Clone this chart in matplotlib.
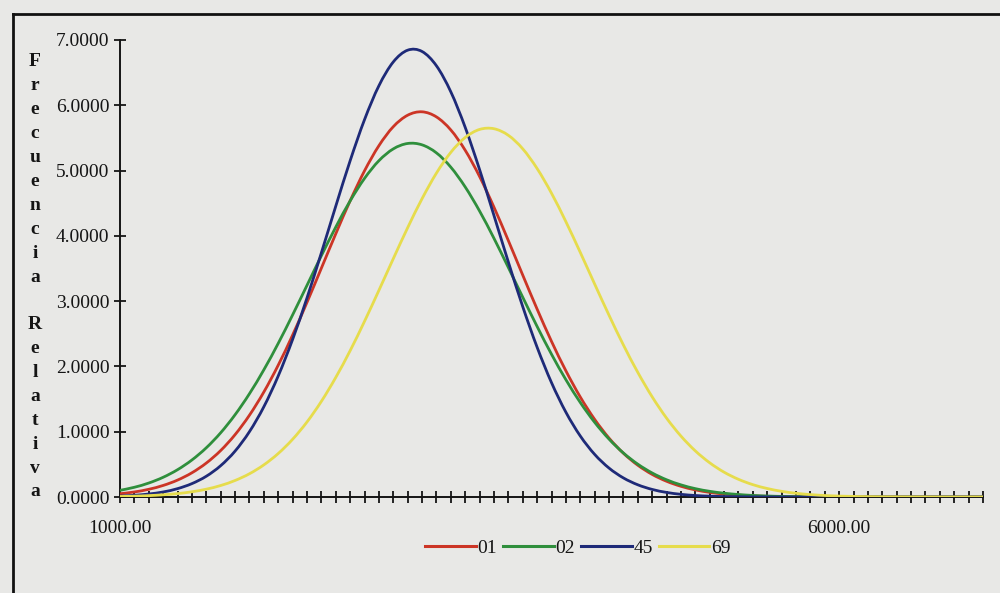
import numpy as np
import matplotlib
matplotlib.use("Agg")
import matplotlib.pyplot as plt
from matplotlib.lines import Line2D
from matplotlib.path import Path
from matplotlib.patches import PathPatch

plt.rcParams['font.family'] = ['Liberation Serif', 'DejaVu Serif']

# Categories (x values)
x_vals = list(range(1000, 7001, 100))

s01 = [0.050, 0.077, 0.118, 0.177, 0.259, 0.371, 0.520, 0.712, 0.955, 1.253,
       1.608, 2.019, 2.480, 2.981, 3.505, 4.031, 4.537, 4.996, 5.381, 5.672,
       5.848, 5.900, 5.822, 5.622, 5.311, 4.909, 4.439, 3.927, 3.399, 2.878,
       2.384, 1.933, 1.532, 1.189, 0.902, 0.670, 0.487, 0.346, 0.241, 0.164,
       0.109, 0.071, 0.045, 0.028, 0.017, 0.010, 0.006, 0.003, 0.002, 0.001,
       0.001, 0, 0, 0, 0, 0, 0, 0, 0, 0, 0]

s02 = [0.102, 0.149, 0.214, 0.302, 0.418, 0.567, 0.754, 0.984, 1.260, 1.582,
       1.948, 2.353, 2.789, 3.242, 3.696, 4.134, 4.535, 4.880, 5.151, 5.332,
       5.415, 5.394, 5.271, 5.052, 4.749, 4.380, 3.962, 3.515, 3.060, 2.612,
       2.187, 1.797, 1.448, 1.144, 0.887, 0.674, 0.503, 0.368, 0.264, 0.186,
       0.128, 0.087, 0.058, 0.038, 0.024, 0.015, 0.009, 0.006, 0.003, 0.002,
       0.001, 0.001, 0, 0, 0, 0, 0, 0, 0, 0, 0]

s45 = [0.014, 0.026, 0.046, 0.077, 0.128, 0.205, 0.318, 0.480, 0.703, 1.001,
       1.382, 1.854, 2.413, 3.049, 3.740, 4.454, 5.150, 5.780, 6.299, 6.664,
       6.844, 6.824, 6.605, 6.206, 5.662, 5.015, 4.312, 3.599, 2.916, 2.294,
       1.752, 1.299, 0.935, 0.653, 0.443, 0.292, 0.187, 0.116, 0.070, 0.041,
       0.023, 0.013, 0.007, 0.004, 0.002, 0.001, 0, 0, 0, 0,
       0, 0, 0, 0, 0, 0, 0, 0, 0, 0, 0]

s69 = [0.008, 0.013, 0.021, 0.034, 0.052, 0.080, 0.120, 0.176, 0.253, 0.356,
       0.492, 0.666, 0.884, 1.149, 1.465, 1.831, 2.241, 2.691, 3.165, 3.650,
       4.125, 4.569, 4.961, 5.279, 5.507, 5.630, 5.641, 5.540, 5.333, 5.031,
       4.653, 4.217, 3.747, 3.262, 2.784, 2.328, 1.909, 1.534, 1.208, 0.933,
       0.706, 0.524, 0.380, 0.271, 0.189, 0.130, 0.087, 0.057, 0.037, 0.023,
       0.014, 0.009, 0.005, 0.003, 0.002, 0.001, 0.001, 0, 0, 0, 0]

series_names = ['01', '02', '45', '69']
series_colors = ['#cc3526', '#2f8f3c', '#1e2a78', '#e6dc4c']
y_ticks = [0, 1, 2, 3, 4, 5, 6, 7]
x_labels = {1000: '1000.00', 6000: '6000.00'}
ylabel_text = 'Frecuencia Relativa'


def smooth_path(xs, ys):
    """Excel-style smoothed line: cubic Bezier segments through the data points."""
    p = np.column_stack([xs, ys]).astype(float)
    verts = [p[0]]
    codes = [Path.MOVETO]
    n = len(p)
    for i in range(n - 1):
        p0 = p[i - 1] if i > 0 else p[i]
        p1, p2 = p[i], p[i + 1]
        p3 = p[i + 2] if i + 2 < n else p[i + 1]
        c1 = p1 + (p2 - p0) / 6.0
        c2 = p2 - (p3 - p1) / 6.0
        verts += [c1, c2, p2]
        codes += [Path.CURVE4] * 3
    return Path(verts, codes)


W, H = 1000, 593
bg = '#e8e8e6'
ink = '#151515'
fig = plt.figure(figsize=(W / 100, H / 100), dpi=100, facecolor=bg)
ax = fig.add_axes([120 / W, 1 - 497 / H, (983 - 120) / W, (497 - 40) / H])
ax.set_facecolor(bg)

for vals, name, col in zip([s01, s02, s45, s69], series_names, series_colors):
    patch = PathPatch(smooth_path(x_vals, vals), facecolor='none', edgecolor=col,
                      lw=2.0, zorder=3, capstyle='round', joinstyle='round')
    ax.add_patch(patch)

ax.set_xlim(1000, 7000)
ax.set_ylim(0, 7)
for sp in ['top', 'right']:
    ax.spines[sp].set_visible(False)
for sp in ['left', 'bottom']:
    ax.spines[sp].set_linewidth(1.4)
    ax.spines[sp].set_color(ink)

ax.set_yticks(y_ticks)
ax.set_yticklabels([f'{v:.4f}' for v in y_ticks])
ax.set_xticks(x_vals)
ax.set_xticklabels([x_labels.get(v, '') for v in x_vals])
ax.tick_params(axis='y', direction='inout', length=9, width=1.3, pad=3,
               labelsize=14, colors=ink)
ax.tick_params(axis='x', direction='inout', length=9, width=1.3, pad=12,
               labelsize=14, colors=ink)

# Stacked vertical y-label, one letter per row
n = len(ylabel_text)
y_top, y_bot = 62, 492
for i, ch in enumerate(ylabel_text):
    ypx = y_top + (y_bot - y_top) * i / (n - 1)
    fig.text(35 / W, 1 - ypx / H, ch, ha='center', va='center', fontsize=14,
             fontweight='bold', color=ink)

# Legend
handles = [Line2D([], [], color=c, lw=2.2) for c in series_colors]
fig.legend(handles, series_names, loc='center', ncol=4, frameon=False,
           bbox_to_anchor=(578 / W, 1 - 548 / H), fontsize=14,
           handlelength=2.6, handletextpad=0.1, columnspacing=0.3,
           labelcolor=ink)

# Chart-area border (left and top visible)
fig.add_artist(Line2D([13 / W, 13 / W], [1 - 14 / H, 0], color='#111111', lw=2,
                      transform=fig.transFigure))
fig.add_artist(Line2D([13 / W, 1.0], [1 - 14 / H, 1 - 14 / H], color='#111111',
                      lw=2, transform=fig.transFigure))

fig.savefig('out.png', dpi=100, facecolor=bg)
